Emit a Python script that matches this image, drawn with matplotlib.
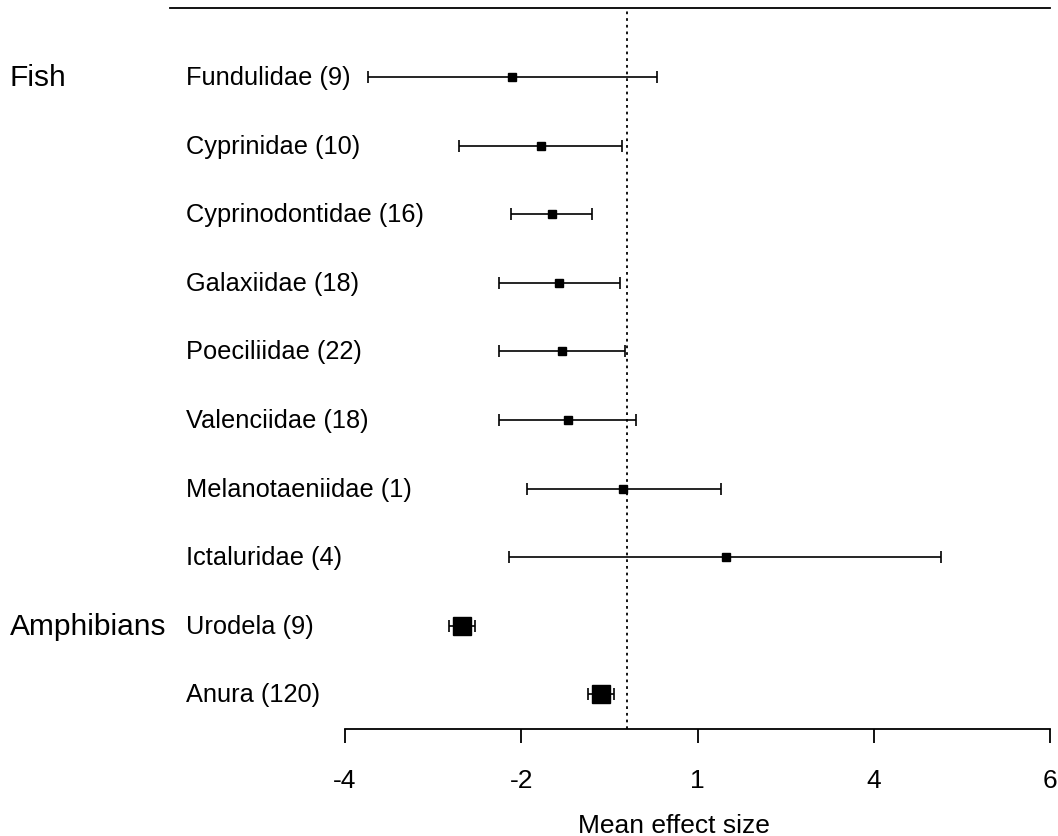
import matplotlib.pyplot as plt
import matplotlib.transforms as mtransforms

families = ['Fundulidae (9)', 'Cyprinidae (10)', 'Cyprinodontidae (16)', 'Galaxiidae (18)',
            'Poeciliidae (22)', 'Valenciidae (18)', 'Melanotaeniidae (1)', 'Ictaluridae (4)',
            'Urodela (9)', 'Anura (120)']
means = [-1.63, -1.22, -1.06, -0.96, -0.92, -0.84, -0.06, 1.40, -2.34, -0.37]
lower = [-3.68, -2.38, -1.64, -1.82, -1.82, -1.82, -1.42, -1.68, -2.52, -0.55]
upper = [0.42, -0.07, -0.49, -0.10, -0.03, 0.13, 1.34, 4.45, -2.16, -0.18]
groups = ['Fish', 'Amphibians']
group_rows = [0, 8]
tick_pos = [-4, -1.5, 1, 3.5, 6]
tick_labels = ['-4', '-2', '1', '4', '6']

plt.rcParams['font.family'] = ['Liberation Sans', 'DejaVu Sans']

fig = plt.figure(figsize=(10.58, 8.37), dpi=100)
W, H = 1058, 837
ax = fig.add_axes([345 / W, 1 - 729.7 / H, 705 / W, (729.7 - 9.4) / H])
# x in figure fraction, y in data rows
trans = mtransforms.blended_transform_factory(fig.transFigure, ax.transData)

for i in range(len(families)):
    big = i >= 8
    ax.errorbar(means[i], i, xerr=[[means[i] - lower[i]], [upper[i] - means[i]]],
                fmt='s', color='black', ms=12.5 if big else 5.8, lw=1.2,
                capsize=4.3, capthick=1.2)
    ax.text(186 / W, i, families[i], transform=trans, fontsize=18.3,
            va='center', ha='left')
for g, r in zip(groups, group_rows):
    ax.text(10 / W, r, g, fontsize=21.5, va='center', ha='left', transform=trans)

ax.axvline(0, color='black', ls=(0, (1.5, 2.2)), lw=1.3)
ax.plot([-175 / 705, 1], [1, 1], color='black', lw=1.3, transform=ax.transAxes, clip_on=False)

ax.set_xlim(-4, 6)
ax.set_ylim(9.5, -1)
ax.set_yticks([])
for s in ['top', 'left', 'right']:
    ax.spines[s].set_visible(False)
ax.spines['bottom'].set_linewidth(1.3)
ax.set_xticks(tick_pos)
ax.set_xticklabels(tick_labels, fontsize=19)
ax.tick_params(axis='x', length=10, width=1.3, pad=18)

fig.text(674 / W, 4 / H, 'Mean effect size', fontsize=19, ha='center', va='baseline')

fig.savefig('out.png', dpi=100)
